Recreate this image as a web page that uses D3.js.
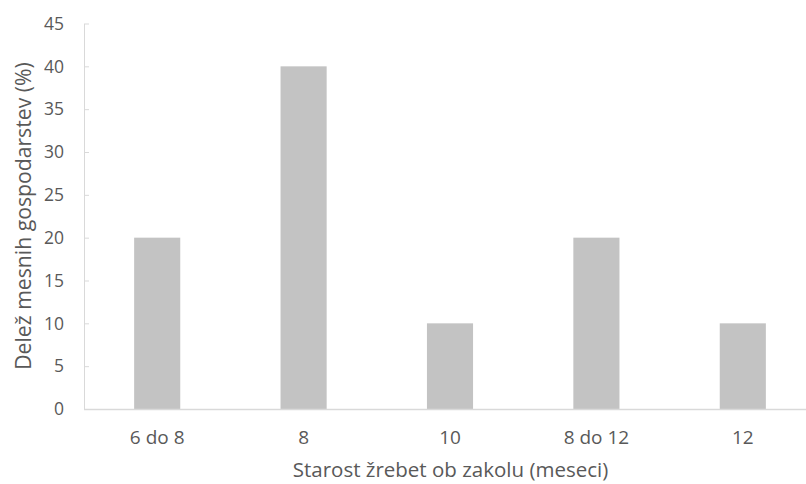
<!DOCTYPE html>
<html>
<head>
<meta charset="utf-8">
<script src="https://cdn.jsdelivr.net/npm/d3@7"></script>
<style>
  html, body { margin: 0; padding: 0; background: #fff; }
  svg { display: block; }
  text { font-family: "Open Sans", "Liberation Sans", sans-serif; fill: #595959; }
</style>
</head>
<body>
<svg id="chart" width="806" height="484"></svg>
<script>
// Starost žrebet ob zakolu – delež mesnih gospodarstev
const categories = ["6 do 8", "8", "10", "8 do 12", "12"];
const shares = [20, 40, 10, 20, 10];
const yTicks = [0, 5, 10, 15, 20, 25, 30, 35, 40, 45];
const xTitle = "Starost žrebet ob zakolu (meseci)";
const yTitle = "Delež mesnih gospodarstev (%)";

(function () {
  const svg = d3.select("#chart");
  const plotLeft = 84, plotBottom = 409, plotTop = 23.5;
  const step = 146.4;

  const x = d3.scaleBand()
    .domain(categories)
    .range([plotLeft, plotLeft + step * categories.length])
    .paddingInner(0.685)
    .paddingOuter(0.3425);

  const y = d3.scaleLinear().domain([0, 45]).range([plotBottom, plotTop]);

  // bars
  svg.append("g").selectAll("rect")
    .data(categories.map((c, i) => ({ c, v: shares[i] })))
    .join("rect")
    .attr("x", d => x(d.c))
    .attr("y", d => y(d.v))
    .attr("width", x.bandwidth())
    .attr("height", d => y(0) - y(d.v))
    .attr("fill", "#c3c3c3");

  // y axis with inward ticks
  const yAxis = svg.append("g")
    .attr("transform", `translate(${plotLeft},0)`)
    .call(d3.axisRight(y).tickValues(yTicks).tickSize(5).tickSizeOuter(0).tickFormat(""));
  yAxis.select(".domain").attr("stroke", "#d9d9d9");
  yAxis.selectAll(".tick line").attr("stroke", "#d9d9d9");

  // y tick labels
  svg.append("g").selectAll("text")
    .data(yTicks)
    .join("text")
    .attr("x", 64)
    .attr("y", d => y(d))
    .attr("dy", "0.36em")
    .attr("text-anchor", "end")
    .attr("font-size", 17.5)
    .text(d => d);

  // x baseline
  svg.append("line")
    .attr("x1", plotLeft).attr("x2", 806)
    .attr("y1", plotBottom + 0.5).attr("y2", plotBottom + 0.5)
    .attr("stroke", "#d9d9d9").attr("stroke-width", 1.5);

  // x tick labels
  svg.append("g").selectAll("text")
    .data(categories)
    .join("text")
    .attr("x", d => x(d) + x.bandwidth() / 2)
    .attr("y", 444)
    .attr("text-anchor", "middle")
    .attr("font-size", 19)
    .text(d => d);

  // axis titles
  svg.append("text")
    .attr("x", 450.5).attr("y", 477)
    .attr("text-anchor", "middle")
    .attr("font-size", 20.5)
    .text(xTitle);

  svg.append("text")
    .attr("transform", "translate(31,216) rotate(-90)")
    .attr("text-anchor", "middle")
    .attr("font-size", 21.2)
    .text(yTitle);
})();
</script>
</body>
</html>
